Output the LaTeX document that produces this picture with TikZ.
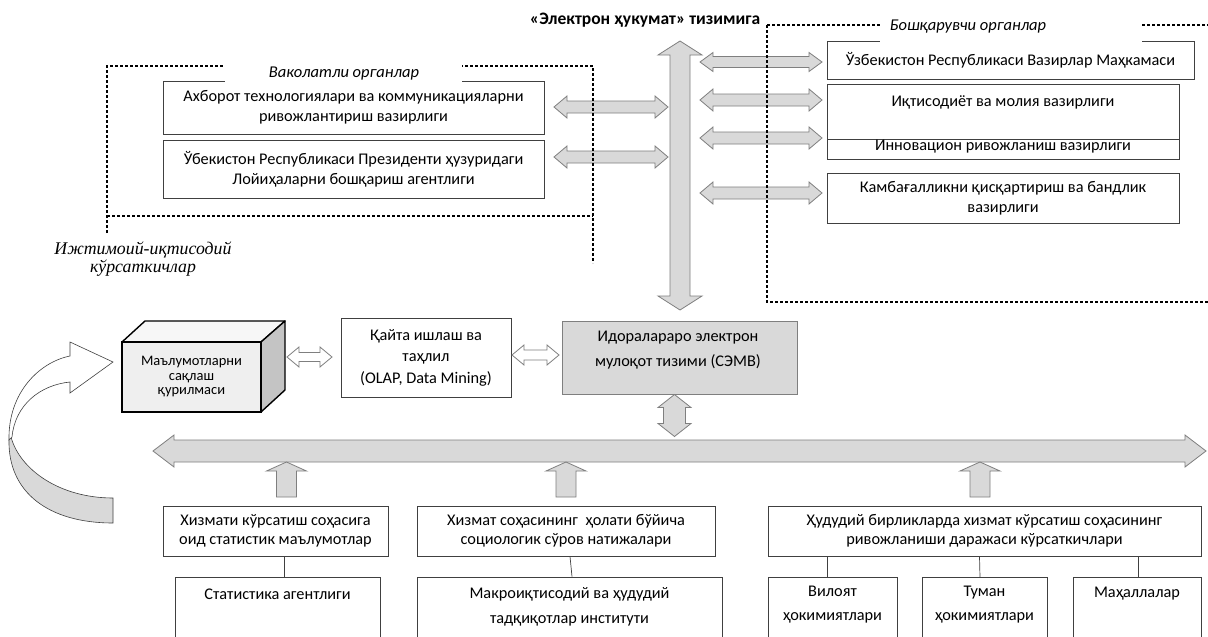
\documentclass[tikz,border=0pt]{standalone}
\usepackage{fontspec}
\setmainfont{Carlito}
\newfontfamily\serifit{Liberation Serif}
\definecolor{arrfill}{HTML}{D9D9D9}
\definecolor{arrline}{HTML}{7F7F7F}
\definecolor{boxline}{HTML}{404040}
\definecolor{cubefront}{HTML}{EFEFEF}
\definecolor{cubetop}{HTML}{F7F7F7}
\definecolor{cubeside}{HTML}{C4C4C4}
\tikzset{
  box/.style={draw=boxline, line width=0.8pt, fill=white, inner sep=0pt, align=center, font=\fontsize{16.3}{20}\selectfont},
  txt/.style={inner sep=0pt, align=center, font=\fontsize{16.3}{20}\selectfont},
  grayarr/.style={fill=arrfill, draw=arrline, line width=0.8pt},
  whitearr/.style={fill=white, draw=arrline, line width=0.8pt},
  dline/.style={line width=1.1pt, dash pattern=on 3pt off 2pt},
  thinline/.style={draw=boxline, line width=0.7pt},
}
% horizontal double block arrow: style, x1, x2, y, shaft half, head half, head length
\newcommand\hdarrow[7]{%
  \draw[#1] (#2,#4) -- ({#2+#7},{#4-#6}) -- ({#2+#7},{#4-#5}) -- ({#3-#7},{#4-#5}) -- ({#3-#7},{#4-#6}) -- (#3,#4)
   -- ({#3-#7},{#4+#6}) -- ({#3-#7},{#4+#5}) -- ({#2+#7},{#4+#5}) -- ({#2+#7},{#4+#6}) -- cycle;}
% vertical double block arrow: style, x, y1, y2, shaft half, head half, head length
\newcommand\vdarrow[7]{%
  \draw[#1] (#2,#3) -- ({#2+#6},{#3+#7}) -- ({#2+#5},{#3+#7}) -- ({#2+#5},{#4-#7}) -- ({#2+#6},{#4-#7}) -- (#2,#4)
   -- ({#2-#6},{#4-#7}) -- ({#2-#5},{#4-#7}) -- ({#2-#5},{#3+#7}) -- ({#2-#6},{#3+#7}) -- cycle;}
% upward single block arrow: style, x, ytip, ybottom, shaft half, head half, head length
\newcommand\uparr[7]{%
  \draw[#1] (#2,#3) -- ({#2+#6},{#3+#7}) -- ({#2+#5},{#3+#7}) -- ({#2+#5},#4) -- ({#2-#5},#4)
   -- ({#2-#5},{#3+#7}) -- ({#2-#6},{#3+#7}) -- cycle;}
\begin{document}
\begin{tikzpicture}[x=1pt, y=-1pt]
\useasboundingbox (0,0) rectangle (1208,637);
\fill[white] (0,0) rectangle (1208,637);

% ---------- upper left boxes ----------
\node[box, minimum width=381pt, minimum height=53pt] (v1) at (353.5,107.5)
  {Ахборот технологиялари ва коммуникацияларни\\ривожлантириш вазирлиги};
\node[box, minimum width=381pt, minimum height=58pt] (v2) at (353.5,169)
  {Ўбекистон Республикаси Президенти ҳузуридаги\\Лойиҳаларни бошқариш агентлиги};

% ---------- upper right boxes ----------
\node[box, minimum width=367pt, minimum height=38pt] (r1) at (1010.5,60)
  {Ўзбекистон Республикаси Вазирлар Маҳкамаси};
\node[box, minimum width=352pt, minimum height=55pt] (r2) at (1003,111.5) {};
\node[txt] (r2t) at (1003,102) {Иқтисодиёт ва молия вазирлиги};
\node[box, minimum width=352pt, minimum height=20pt] (r3) at (1003,149) {};
\node[txt] (r3t) at (1003,147) {Инновацион ривожланиш вазирлиги};
\node[box, minimum width=352pt, minimum height=50pt] (r4) at (1003,198)
  {Камбағалликни қисқартириш ва бандлик\\вазирлиги};

% ---------- middle ----------
\node[box, minimum width=170pt, minimum height=79pt, font=\fontsize{16.3}{21.5}\selectfont] (olap) at (426,357.5)
  {Қайта ишлаш ва\\таҳлил\\(OLAP, Data Mining)};
\node[box, fill=arrfill, draw=arrline, minimum width=235pt, minimum height=73pt] (semv) at (679.5,357.5) {};
\node[txt, font=\fontsize{16.3}{25}\selectfont] (semvt) at (678,350)
  {Идоралараро электрон\\мулоқот тизими (СЭМВ)};

% ---------- bottom boxes ----------
\node[box, minimum width=225pt, minimum height=50pt, font=\fontsize{16.3}{19}\selectfont] (b1) at (275.5,531)
  {Хизмати кўрсатиш соҳасига\\оид статистик маълумотлар};
\node[box, minimum width=298pt, minimum height=50pt, font=\fontsize{16.3}{19}\selectfont] (b2) at (566,531)
  {Хизмат соҳасининг\ \ ҳолати бўйича\\социологик сўров натижалари};
\node[box, minimum width=433pt, minimum height=50pt, font=\fontsize{16.3}{19}\selectfont] (b3) at (984.5,531)
  {Ҳудудий бирликларда хизмат кўрсатиш соҳасининг\\ривожланиши даражаси кўрсаткичлари};

\node[box, minimum width=205pt, minimum height=80pt] (s1) at (277.5,617) {};
\node[box, minimum width=305pt, minimum height=80pt] (s2) at (569.5,617) {};
\node[box, minimum width=129pt, minimum height=80pt] (s3) at (832.5,617) {};
\node[box, minimum width=125pt, minimum height=80pt] (s4) at (984.5,617) {};
\node[box, minimum width=128pt, minimum height=80pt] (s5) at (1137,617) {};
\node[txt] (s1t) at (277.5,594) {Статистика агентлиги};
\node[txt, font=\fontsize{16.3}{25}\selectfont] (s2t) at (569.5,607) {Макроиқтисодий ва ҳудудий\\тадқиқотлар институти};
\node[txt, font=\fontsize{16.3}{24}\selectfont] (s3t) at (832.5,605) {Вилоят\\ҳокимиятлари};
\node[txt, font=\fontsize{16.3}{24}\selectfont] (s4t) at (984.5,605) {Туман\\ҳокимиятлари};
\node[txt] (s5t) at (1137,594) {Маҳаллалар};

% thin connectors
\draw[thinline] ([xshift=8.5pt]b1.south) -- ([xshift=8.5pt]b1.south |- s1.north);
\draw[thinline] ([xshift=4pt]b2.south) -- ([xshift=6pt]b2.south |- s2.north);
\draw[thinline] (s3.north |- b3.south) ++(-5.5,0) coordinate (c3) -- (c3 |- s3.north);
\draw[thinline] (s4.north |- b3.south) ++(-5,0) coordinate (c4) -- ++(0.5,21);
\draw[thinline] (s5.north |- b3.south) ++(1,0) coordinate (c5) -- (c5 |- s5.north);

% ---------- block arrows ----------
\vdarrow{grayarr}{680}{41}{310}{10}{22}{14}
\hdarrow{grayarr}{554}{668}{107}{6}{11}{13}
\hdarrow{grayarr}{554}{668}{157}{6}{11}{13}
\hdarrow{grayarr}{700}{822}{62}{5.5}{9.5}{13}
\hdarrow{grayarr}{700}{822}{100}{6}{11}{13}
\hdarrow{grayarr}{700}{822}{138}{6}{11}{13}
\hdarrow{grayarr}{700}{822}{193}{6}{11}{13}
\vdarrow{grayarr}{674.5}{394.5}{436.5}{11}{16.5}{13}
\hdarrow{grayarr}{153}{1206}{451}{11}{16}{21}
\uparr{grayarr}{286.5}{462}{497}{10}{20}{9}
\uparr{grayarr}{566}{462}{497}{10}{20}{9}
\uparr{grayarr}{980}{462}{497}{10}{20}{9}
\hdarrow{whitearr}{287}{332}{357}{4.5}{10}{12}
\hdarrow{whitearr}{512}{559}{355}{5}{10}{12}

% ---------- dashed frames ----------
\draw[dline] (107,233) -- (107,66) -- (593,66) -- (593,263);
\draw[dline] (107,216) -- (593,216);
\draw[dline] (767,25) -- (1208,25);
\draw[dline] (767,25) -- (767,302) -- (1208,302);

% ---------- frame labels ----------
\fill[white] (225,55) rectangle (462,82.5);
\node[txt, font=\itshape\fontsize{16.5}{20}\selectfont] (vak) at (344,74) {Ваколатли органлар};
\fill[white] (880,14) rectangle (1142,42.5);
\node[txt, font=\itshape\fontsize{16.5}{20}\selectfont] (bosh) at (968,27) {Бошқарувчи органлар};
\node[txt, font=\bfseries\fontsize{17.5}{20}\selectfont] (title) at (645,20) {«Электрон ҳукумат» тизимига};
\node[txt, font=\serifit\itshape\fontsize{17.8}{17.5}\selectfont] (ijt) at (143,259)
  {Ижтимоий-иқтисодий\\кўрсаткичлар};

% ---------- storage cube ----------
\draw[line width=1.4pt, line join=round, fill=cubetop] (122,342) -- (145,321) -- (285,321) -- (261,342) -- cycle;
\draw[line width=1.4pt, line join=round, fill=cubeside] (261,342) -- (285,321) -- (285,390) -- (261,412) -- cycle;
\node[draw, line width=1.4pt, fill=cubefront, minimum width=139pt, minimum height=70pt, inner sep=0pt,
      align=center, font=\fontsize{14.5}{14.5}\selectfont] (cube) at (191.5,377) {Маълумотларни\\сақлаш\\қурилмаси};

% ---------- curved arrow ----------
\draw[line width=0.6pt, draw=black!75, fill=arrfill]
  (11,437) .. controls (20,470) and (60,498) .. (113,498) -- (113,523)
  .. controls (48,523) and (8,492) .. (9,440) -- cycle;
\draw[line width=0.6pt, draw=black!75, fill=white]
  (9,440) .. controls (8,392) and (40,362) .. (70,356) -- (70,342) -- (113,362) -- (70,393) -- (70,382)
  .. controls (40,385) and (15,405) .. (12,437) -- cycle;
\end{tikzpicture}
\end{document}
